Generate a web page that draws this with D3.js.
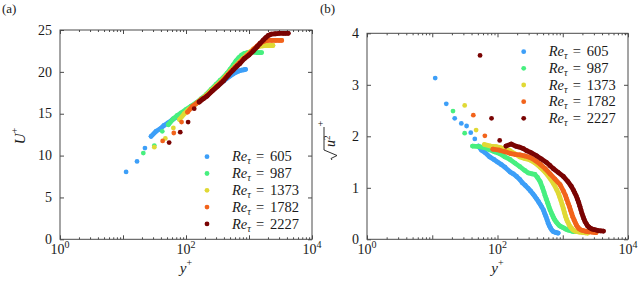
<!DOCTYPE html>
<html><head><meta charset="utf-8">
<script src="https://cdn.jsdelivr.net/npm/d3@7"></script>
<style>
body{margin:0;background:#fff}
svg, svg text{font-family:"Liberation Serif","Times New Roman",Times,"DejaVu Serif","Noto Serif",serif !important;}
svg text{fill:#1a1a1a}
</style>
</head><body>
<svg id="c" width="638" height="281" font-family="Liberation Serif, Times New Roman, serif"></svg>
<script>
// ---------------- DATA ----------------
const reLabels = ["605", "987", "1373", "1782", "2227"];
const colors = ["#3d9ff8", "#47ef7f", "#e0d935", "#f2631b", "#7a0403"];
const xTickLabels = [1, 100, 10000];
const uTicks = [0, 5, 10, 15, 20, 25];
const rmsTicks = [0, 1, 2, 3, 4];

// panel (a): mean velocity U+ vs y+
const u605 = [[11.2,8.05],[16.7,9.3],[22.3,10.9],[27.9,12.3],[33.5,12.9],[39,13.2],[44.6,13.6],[52,13.9],[61,14.3],[71,14.6],[85,15.0],[100,15.4],[120,15.8],[145,16.2],[175,16.7],[210,17.2],[250,17.7],[300,18.2],[350,18.6],[400,18.95],[450,19.25],[500,19.5],[560,19.75],[620,19.95],[690,20.1],[760,20.2],[830,20.25],[880,20.3]];
const u987 = [[21,10.3],[31.4,11.2],[42,12.9],[52.5,13.7],[63,14.4],[73,14.8],[84,15.1],[100,15.5],[120,15.9],[145,16.3],[175,16.8],[210,17.3],[250,17.9],[300,18.5],[350,19.0],[400,19.4],[450,19.85],[500,20.3],[560,20.8],[620,21.3],[690,21.7],[760,22.0],[850,22.2],[950,22.3],[1050,22.35],[1200,22.35],[1350,22.3],[1480,22.3],[1580,22.3]];
const u1373 = [[31.4,11.0],[47,12.05],[63,13.3],[79,14.3],[94,15.0],[110,15.5],[130,15.9],[150,16.3],[175,16.7],[210,17.2],[250,17.75],[300,18.3],[360,18.85],[430,19.5],[510,20.1],[600,20.65],[700,21.15],[800,21.6],[920,22.0],[1050,22.4],[1170,22.7],[1300,22.9],[1450,23.05],[1650,23.1],[1900,23.15],[2150,23.15],[2400,23.15]];
const u1782 = [[42.6,11.75],[64,12.7],[85,14.0],[106,15.2],[127,15.9],[150,16.3],[175,16.7],[210,17.1],[250,17.6],[300,18.2],[360,18.75],[430,19.4],[510,20.0],[600,20.55],[700,21.05],[800,21.5],[920,21.9],[1050,22.3],[1200,22.75],[1350,23.1],[1500,23.4],[1650,23.6],[1800,23.7],[2000,23.75],[2300,23.75],[2650,23.75],[3000,23.75],[3300,23.75]];
const u2227 = [[54,11.55],[81,12.8],[108,14.0],[135,15.6],[162,16.4],[189,16.8],[216,17.1],[260,17.7],[320,18.3],[392,18.9],[470,19.6],[560,20.2],[650,20.7],[720,21.0],[850,21.6],[1000,22.0],[1170,22.5],[1350,23.0],[1500,23.4],[1690,23.8],[1850,24.1],[2030,24.35],[2250,24.5],[2600,24.55],[3000,24.6],[3500,24.6],[3800,24.6],[4200,24.6]];

// panel (b): rms streamwise fluctuation vs y+
const r605 = [[11.1,3.13],[16.4,2.63],[22.1,2.35],[27.9,2.25],[33.6,2.20],[38.9,2.07],[44.9,1.95],[50.8,1.81],[57,1.73],[65,1.68],[76,1.60],[88,1.55],[100,1.50],[115,1.45],[130,1.40],[155,1.31],[175,1.27],[196,1.22],[220,1.16],[240,1.10],[265,1.05],[295,0.99],[320,0.94],[350,0.88],[375,0.83],[400,0.78],[425,0.73],[450,0.68],[475,0.63],[505,0.57],[530,0.50],[550,0.45],[575,0.38],[600,0.31],[625,0.26],[650,0.22],[680,0.18],[715,0.15],[750,0.14],[800,0.13],[850,0.12]];
const r987 = [[20.8,2.49],[31.4,2.06],[41.5,1.81],[52,1.80],[63,1.78],[76,1.74],[90,1.70],[109,1.66],[130,1.60],[155,1.55],[185,1.48],[220,1.41],[260,1.34],[295,1.29],[340,1.27],[375,1.26],[410,1.20],[450,1.12],[490,1.00],[515,0.92],[535,0.85],[560,0.78],[590,0.70],[615,0.63],[640,0.57],[670,0.51],[700,0.46],[730,0.41],[760,0.37],[800,0.33],[850,0.29],[900,0.26],[960,0.24],[1030,0.22],[1100,0.20],[1200,0.18],[1290,0.17],[1380,0.16],[1480,0.15],[1580,0.15]];
const r1373 = [[31.4,2.60],[47,2.12],[63,1.84],[79,1.81],[95,1.80],[110,1.78],[130,1.75],[155,1.72],[185,1.66],[220,1.60],[260,1.57],[315,1.54],[380,1.48],[450,1.40],[540,1.30],[640,1.18],[730,1.07],[810,0.96],[860,0.89],[900,0.82],[940,0.75],[980,0.67],[1020,0.60],[1060,0.52],[1100,0.45],[1150,0.38],[1200,0.33],[1250,0.28],[1310,0.24],[1370,0.21],[1450,0.18],[1550,0.16],[1680,0.15],[1800,0.14],[1950,0.135],[2100,0.13],[2250,0.125],[2400,0.12]];
const r1782 = [[42.6,2.41],[64,2.01],[85,1.75],[107,1.73],[130,1.70],[155,1.67],[185,1.65],[220,1.64],[260,1.62],[315,1.59],[380,1.53],[450,1.46],[540,1.37],[640,1.27],[760,1.17],[910,1.06],[1030,0.93],[1100,0.85],[1150,0.78],[1210,0.70],[1270,0.63],[1320,0.56],[1370,0.50],[1430,0.43],[1500,0.37],[1560,0.32],[1630,0.27],[1710,0.23],[1800,0.20],[1920,0.18],[2050,0.17],[2200,0.16],[2400,0.15],[2600,0.145],[2800,0.14],[3000,0.135],[3250,0.13]];
const r2227 = [[54,3.57],[81,2.35],[108,1.92],[135,1.81],[162,1.85],[189,1.81],[216,1.79],[250,1.76],[280,1.72],[330,1.68],[400,1.62],[470,1.56],[565,1.49],[640,1.43],[720,1.37],[850,1.30],[1020,1.22],[1200,1.12],[1350,1.03],[1450,0.96],[1530,0.90],[1600,0.85],[1680,0.78],[1750,0.72],[1830,0.64],[1900,0.57],[1970,0.50],[2050,0.44],[2120,0.39],[2200,0.34],[2300,0.30],[2400,0.26],[2500,0.24],[2600,0.22],[2800,0.20],[3000,0.19],[3250,0.18],[3500,0.17],[3800,0.165],[4200,0.16]];

const uSeries = [u605, u987, u1373, u1782, u2227];
const rSeries = [r605, r987, r1373, r1782, r2227];

// ---------------- DRAW ----------------
const FONT = '"Liberation Serif","Times New Roman",Times,"DejaVu Serif",serif';
const svg = d3.select("#c");
const frameColor = "#4a4a4a";
const minorVals = [];
for (let k = 0; k < 4; k++) for (let m = 2; m <= 9; m++) minorVals.push(m * Math.pow(10, k));
const majorVals = [1, 10, 100, 1000, 10000];

function drawPanel(cfg) {
  const x = d3.scaleLog().domain([1, 1e4]).range([cfg.x0, cfg.x1]);
  const y = d3.scaleLinear().domain(cfg.yDomain).range([cfg.yb, cfg.yt]);
  const g = svg.append("g").attr("font-family", FONT);

  const axes = [
    [d3.axisBottom(x).tickValues(majorVals).tickSize(-4), `translate(0,${cfg.yb})`],
    [d3.axisBottom(x).tickValues(minorVals).tickSize(-2), `translate(0,${cfg.yb})`],
    [d3.axisTop(x).tickValues(majorVals).tickSize(-4), `translate(0,${cfg.yt})`],
    [d3.axisTop(x).tickValues(minorVals).tickSize(-2), `translate(0,${cfg.yt})`],
    [d3.axisRight(y).tickValues(cfg.yTicks).tickSize(-4), `translate(${cfg.x1},0)`]
  ];
  axes.forEach(([ax, tr]) => {
    const a = g.append("g").attr("transform", tr).call(ax.tickFormat(""));
    a.select(".domain").remove();
    a.selectAll("line").attr("stroke", frameColor);
  });
  const yl = g.append("g").attr("transform", `translate(${cfg.x0},0)`)
    .call(d3.axisLeft(y).tickValues(cfg.yTicks).tickSize(-4).tickPadding(8).tickFormat(d3.format("d")));
  yl.attr("font-family", FONT).attr("font-size", 14);
  yl.select(".domain").remove();
  yl.selectAll("line").attr("stroke", frameColor);
  yl.selectAll("text").attr("fill", "#1a1a1a").attr("font-family", FONT).attr("dy", "0.3em");

  g.append("rect").attr("x", cfg.x0).attr("y", cfg.yt)
    .attr("width", cfg.x1 - cfg.x0).attr("height", cfg.yb - cfg.yt)
    .attr("fill", "none").attr("stroke", frameColor).attr("stroke-width", 1);

  xTickLabels.forEach(v => {
    const t = g.append("text").attr("x", x(v)).attr("y", cfg.yb + 14.5)
      .attr("text-anchor", "middle").attr("font-size", 14);
    t.append("tspan").text("10");
    t.append("tspan").attr("dy", -6).attr("font-size", 10).text(String(Math.round(Math.log10(v))));
  });

  const xm = (cfg.x0 + cfg.x1) / 2;
  const xt = g.append("text").attr("x", xm).attr("y", 272.5).attr("text-anchor", "middle").attr("font-size", 15);
  xt.append("tspan").attr("font-style", "italic").text("y");
  xt.append("tspan").attr("dy", -7).attr("font-size", 10).text("+");

  cfg.series.forEach((data, i) => {
    const pts = data.map(d => [x(d[0]), y(d[1])]);
    let k = pts.length - 1;
    for (let j = pts.length - 2; j >= 0; j--) {
      const dist = Math.hypot(pts[j + 1][0] - pts[j][0], pts[j + 1][1] - pts[j][1]);
      if (dist < 8) k = j; else break;
    }
    if (k < pts.length - 1) {
      g.append("path").attr("d", d3.line()(pts.slice(k)))
        .attr("fill", "none").attr("stroke", colors[i]).attr("stroke-width", 4.8)
        .attr("stroke-linejoin", "round").attr("stroke-linecap", "round");
    }
    g.append("g").selectAll("circle").data(pts).join("circle")
      .attr("cx", d => d[0]).attr("cy", d => d[1]).attr("r", 2.4).attr("fill", colors[i]);
  });

  reLabels.forEach((lab, i) => {
    const cy = cfg.legY + i * cfg.legStep;
    g.append("circle").attr("cx", cfg.legX).attr("cy", cy).attr("r", 2.4).attr("fill", colors[i]);
    const tx = cfg.legX + 25;
    const t = g.append("text").attr("x", tx).attr("y", cy + 4.6).attr("font-size", 14.5);
    t.append("tspan").attr("font-style", "italic").text("Re");
    t.append("tspan").attr("font-style", "italic").attr("font-size", 10).attr("dy", 3).text("τ");
    g.append("text").attr("x", tx + 24).attr("y", cy + 4.6).attr("font-size", 14.5).text("=");
    g.append("text").attr("x", tx + 38).attr("y", cy + 4.6).attr("font-size", 14.5).text(lab);
  });

  g.append("text").attr("x", cfg.labX).attr("y", 12.5).attr("font-size", 13).text(cfg.label);
  return g;
}

drawPanel({x0: 60, x1: 312, yb: 239.3, yt: 30, yDomain: [0, 25], yTicks: uTicks,
  series: uSeries, legX: 207, legY: 156.7, legStep: 16.8, labX: 2, label: "(a)"});
drawPanel({x0: 367, x1: 628, yb: 239.3, yt: 33.3, yDomain: [0, 4], yTicks: rmsTicks,
  series: rSeries, legX: 523.7, legY: 51.7, legStep: 16.65, labX: 320, label: "(b)"});

const ua = svg.append("text").attr("transform", "translate(25,136) rotate(-90)")
  .attr("text-anchor", "middle").attr("font-size", 15).attr("font-family", FONT);
ua.append("tspan").attr("font-style", "italic").text("U");
ua.append("tspan").attr("dy", -7).attr("font-size", 10).text("+");

const rb = svg.append("g").attr("transform", "translate(336,138) rotate(-90)").attr("font-family", FONT);
rb.append("path").attr("d", "M-22,-4 L-20.5,-5 L-17.5,1 L-12,-12 L11,-12")
  .attr("fill", "none").attr("stroke", "#1a1a1a").attr("stroke-width", 0.9);
const rt = rb.append("text").attr("x", -9).attr("y", -1).attr("font-size", 14);
rt.append("tspan").attr("font-style", "italic").text("u");
rt.append("tspan").attr("dy", -5).attr("font-size", 9).text("2");
rb.append("text").attr("x", 11.5).attr("y", -12).attr("font-size", 10).text("+");
</script>
</body></html>
